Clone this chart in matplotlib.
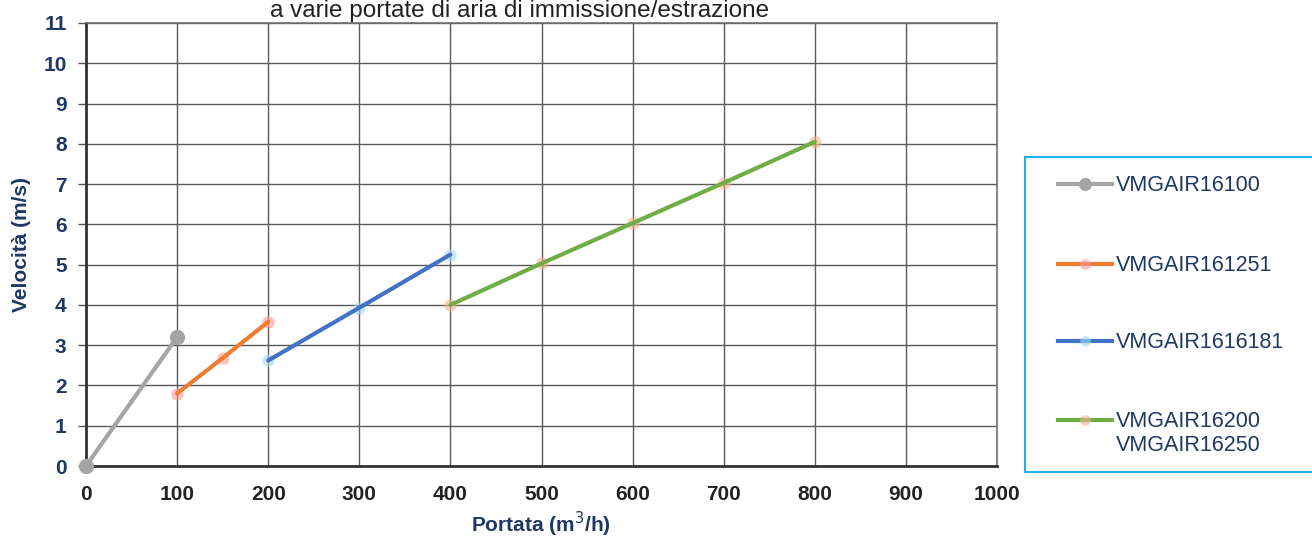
import matplotlib
matplotlib.use("Agg")
import matplotlib.pyplot as plt
from matplotlib.lines import Line2D
from matplotlib.patches import Rectangle

# Data
x_16100 = [0, 100]
y_16100 = [0, 3.2]
x_161251 = [100, 150, 200]
y_161251 = [1.8, 2.68, 3.58]
x_1616181 = [200, 300, 400]
y_1616181 = [2.62, 3.93, 5.25]
x_16200 = [400, 500, 600, 700, 800]
y_16200 = [4.0, 5.03, 6.03, 7.03, 8.05]
labels = ["VMGAIR16100", "VMGAIR161251", "VMGAIR1616181", "VMGAIR16200\nVMGAIR16250"]
x_ticks = list(range(0, 1001, 100))
y_ticks = list(range(0, 12))

navy = "#1f3864"
fam = ["Liberation Sans", "DejaVu Sans"]
W, H = 1312, 539

fig = plt.figure(figsize=(W / 100, H / 100), dpi=100)
ax = fig.add_axes([86 / W, 73 / H, (997 - 86) / W, (466 - 23) / H])

series = [
    (x_16100, y_16100, "#a5a5a5", "#a5a5a5", 1.0, 11),
    (x_161251, y_161251, "#ed7d31", "#ff9a9a", 0.6, 9),
    (x_1616181, y_1616181, "#4472c4", "#9fdcf7", 0.6, 9),
    (x_16200, y_16200, "#70ad47", "#f2b38f", 0.6, 9),
]
for xs, ys, lc, mc, ma, ms in series:
    ax.plot(xs, ys, color=mc, linestyle="none", marker="o", markersize=ms,
            alpha=ma, markeredgewidth=0, zorder=3, clip_on=False)
    ax.plot(xs, ys, color=lc, linewidth=3, zorder=4, solid_capstyle="round", clip_on=False)

ax.set_xlim(0, 1000)
ax.set_ylim(0, 11)
ax.set_xticks(x_ticks)
ax.set_yticks(y_ticks)
ax.grid(True, color="#5a5a5a", linewidth=1.0)
ax.set_axisbelow(True)
for s in ["top", "right"]:
    ax.spines[s].set_color("#6f6f6f")
    ax.spines[s].set_linewidth(1.2)
for s in ["left", "bottom"]:
    ax.spines[s].set_color("#333333")
    ax.spines[s].set_linewidth(2.0)
ax.tick_params(axis="y", length=6, width=1, color="#555555", pad=8)
ax.tick_params(axis="x", length=0, pad=14)
for t in ax.get_yticklabels():
    t.set_family(fam); t.set_fontweight("bold"); t.set_fontsize(15); t.set_color(navy)
for t in ax.get_xticklabels():
    t.set_family(fam); t.set_fontweight("bold"); t.set_fontsize(15); t.set_color("#222222")

fig.text(22 / W, 1 - 245 / H, "Velocità (m/s)", rotation=90, ha="center", va="center",
         family=fam, fontweight="bold", fontsize=15, color=navy)
fig.text(541 / W, 1 - 524 / H, "Portata (m$^3$/h)", ha="center", va="center",
         family=fam, fontweight="bold", fontsize=15, color=navy)
fig.text(520 / W, 1.0, "a varie portate di aria di immissione/estrazione",
         ha="center", va="top", family=fam, fontsize=17.5, color="#222222")

# Legend (manual, to match the reference layout)
fig.patches.append(Rectangle((1025 / W, 1 - 472 / H), 300 / W, (472 - 157) / H,
                             transform=fig.transFigure, facecolor="white",
                             edgecolor="#1fb4e8", linewidth=1.5, clip_on=False))
row_y = [184, 264, 341, 420]
for (xs, ys, lc, mc, ma, ms), lab, ry in zip(series, labels, row_y):
    yf = 1 - ry / H
    fig.add_artist(Line2D([1058 / W, 1112 / W], [yf, yf], transform=fig.transFigure,
                          color=lc, linewidth=3))
    fig.add_artist(Line2D([1085 / W], [yf], transform=fig.transFigure, linestyle="none",
                          marker="o", markersize=ms * 0.85, markerfacecolor=mc,
                          markeredgewidth=0, alpha=ma if ma < 1 else 1.0))
    fig.text(1116 / W, 1 - (ry - 9) / H, lab, ha="left", va="top", family=fam,
             fontsize=15.5, color=navy, linespacing=1.2)

fig.savefig("out.png", dpi=100)
